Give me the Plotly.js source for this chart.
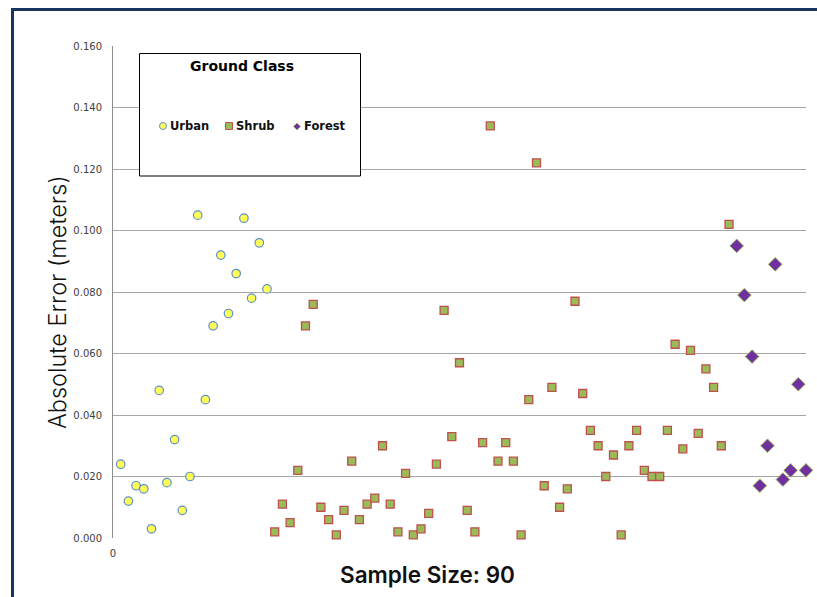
<!DOCTYPE html>
<html>
<head>
<meta charset="utf-8">
<script src="https://cdn.plot.ly/plotly-3.0.1.min.js"></script>
<style>
html,body{margin:0;padding:0;background:#fff;overflow:hidden;width:817px;height:597px;}
#wrap{position:relative;width:817px;height:597px;overflow:hidden;}
#chart{position:absolute;left:0;top:0;width:817px;height:597px;}
#frame{position:absolute;left:11px;top:8px;width:900px;height:700px;
       border-top:3px solid #17375e;border-left:3px solid #17375e;pointer-events:none;box-sizing:border-box;}
</style>
</head>
<body>
<div id="wrap">
<div id="chart"></div>
<div id="frame"></div>
</div>
<script>
// ---- Data ----
var urbanX = [1,2,3,4,5,6,7,8,9,10,11,12,13,14,15,16,17,18,19,20];
var urbanY = [0.024,0.012,0.017,0.016,0.003,0.048,0.018,0.032,0.009,0.020,
              0.105,0.045,0.069,0.092,0.073,0.086,0.104,0.078,0.096,0.081];

var shrubX = [21,22,23,24,25,26,27,28,29,30,31,32,33,34,35,36,37,38,39,40,
              41,42,43,44,45,46,47,48,49,50,51,52,53,54,55,56,57,58,59,60,
              61,62,63,64,65,66,67,68,69,70,71,72,73,74,75,76,77,78,79,80];
var shrubY = [0.002,0.011,0.005,0.022,0.069,0.076,0.010,0.006,0.001,0.009,
              0.025,0.006,0.011,0.013,0.030,0.011,0.002,0.021,0.001,0.003,
              0.008,0.024,0.074,0.033,0.057,0.009,0.002,0.031,0.134,0.025,
              0.031,0.025,0.001,0.045,0.122,0.017,0.049,0.010,0.016,0.077,
              0.047,0.035,0.030,0.020,0.027,0.001,0.030,0.035,0.022,0.020,
              0.020,0.035,0.063,0.029,0.061,0.034,0.055,0.049,0.030,0.102];

var forestX = [81,82,83,84,85,86,87,88,89,90];
var forestY = [0.095,0.079,0.059,0.017,0.030,0.089,0.019,0.022,0.050,0.022];

var seriesNames = ['Urban','Shrub','Forest'];
var yTickVals = [0,0.02,0.04,0.06,0.08,0.1,0.12,0.14,0.16];
var yTickText = ['0.000','0.020','0.040','0.060','0.080','0.100','0.120','0.140','0.160'];
var xTickVals = [0];
var xTickText = ['0'];
var legendTitle = 'Ground Class';
var xTitle = 'Sample Size: 90';
var yTitle = 'Absolute Error (meters)';

// ---- Layout helpers (pixel -> paper) ----
var W = 817, H = 597;
var mL = 113, mR = 11, mT = 46, mB = 59;
var pw = W - mL - mR, ph = H - mT - mB;
function px(x){ return (x - mL) / pw; }
function py(y){ return (H - mB - y) / ph; }

var urbanColor = '#ffff55', urbanLine = '#5b8fd0';
var shrubColor = '#9bbb59', shrubLine = '#c0504d';
var forestColor = '#7030a0', forestLine = '#9bbb59';

var traces = [
  {x: urbanX, y: urbanY, name: seriesNames[0], type: 'scatter', mode: 'markers', cliponaxis: false,
   marker: {symbol: 'circle', size: 8.5, color: urbanColor, line: {color: urbanLine, width: 1.2}},
   showlegend: false},
  {x: shrubX, y: shrubY, name: seriesNames[1], type: 'scatter', mode: 'markers', cliponaxis: false,
   marker: {symbol: 'square', size: 8, color: shrubColor, line: {color: shrubLine, width: 1.3}},
   showlegend: false},
  {x: forestX, y: forestY, name: seriesNames[2], type: 'scatter', mode: 'markers', cliponaxis: false,
   marker: {symbol: 'diamond', size: 10.5, color: forestColor, line: {color: forestLine, width: 1}},
   showlegend: false}
];

var tickFont = {family: 'DejaVu Sans, Verdana, sans-serif', size: 10, color: '#404040'};
var legFont = {family: 'DejaVu Sans, Verdana, sans-serif', size: 11.5, color: '#111111', weight: 'bold'};

var shapes = [
  // legend box
  {type: 'rect', xref: 'paper', yref: 'paper', x0: px(139.5), x1: px(360.5), y0: py(53.5), y1: py(176),
   fillcolor: '#ffffff', line: {color: '#000000', width: 1}, layer: 'above'},
  // legend glyphs
  {type: 'circle', xref: 'paper', yref: 'paper', x0: px(159.5), x1: px(166.5), y0: py(122.5), y1: py(129.5),
   fillcolor: urbanColor, line: {color: urbanLine, width: 1}, layer: 'above'},
  {type: 'rect', xref: 'paper', yref: 'paper', x0: px(225.5), x1: px(232.5), y0: py(122.5), y1: py(129.5),
   fillcolor: shrubColor, line: {color: shrubLine, width: 1}, layer: 'above'},
  {type: 'path', xref: 'paper', yref: 'paper',
   path: 'M ' + px(297) + ' ' + py(123) + ' L ' + px(300.5) + ' ' + py(126.5) + ' L ' + px(297) + ' ' + py(130) + ' L ' + px(293.5) + ' ' + py(126.5) + ' Z',
   fillcolor: forestColor, line: {color: forestLine, width: 0.8}, layer: 'above'}
];

var annotations = [
  {xref: 'paper', yref: 'paper', x: px(242), y: py(66.5), text: legendTitle, showarrow: false,
   xanchor: 'center', yanchor: 'middle',
   font: {family: 'DejaVu Sans, Verdana, sans-serif', size: 14, color: '#000', weight: 'bold'}},
  {xref: 'paper', yref: 'paper', x: px(168), y: py(126.5), text: seriesNames[0], showarrow: false,
   xanchor: 'left', yanchor: 'middle', font: legFont},
  {xref: 'paper', yref: 'paper', x: px(234), y: py(126.5), text: seriesNames[1], showarrow: false,
   xanchor: 'left', yanchor: 'middle', font: legFont},
  {xref: 'paper', yref: 'paper', x: px(302), y: py(126.5), text: seriesNames[2], showarrow: false,
   xanchor: 'left', yanchor: 'middle', font: legFont},
  {xref: 'paper', yref: 'paper', x: px(427), y: py(574), text: xTitle, showarrow: false,
   xanchor: 'center', yanchor: 'middle',
   font: {family: 'Inter, Lato, sans-serif', size: 22.5, color: '#111111', weight: 600}},
  {xref: 'paper', yref: 'paper', x: px(57), y: py(302), text: yTitle, showarrow: false, textangle: -90,
   xanchor: 'center', yanchor: 'middle',
   font: {family: 'Inter, Lato, sans-serif', size: 23.5, color: '#111111', weight: 300}}
];

var layout = {
  width: W, height: H,
  margin: {l: mL, r: mR, t: mT, b: mB, pad: 0},
  paper_bgcolor: '#ffffff', plot_bgcolor: '#ffffff',
  showlegend: false,
  xaxis: {range: [0, 90], tickvals: xTickVals, ticktext: xTickText, showgrid: false,
          zeroline: false, showline: false, ticks: '', tickfont: tickFont, ticklabelstandoff: 8,
          fixedrange: true},
  yaxis: {range: [0, 0.16], tickvals: yTickVals, ticktext: yTickText, showgrid: true,
          gridcolor: '#a6a6a6', gridwidth: 1, zeroline: false, showline: true,
          linecolor: '#8c8c8c', linewidth: 1, ticks: '', tickfont: tickFont,
          ticklabelstandoff: 8, fixedrange: true},
  shapes: shapes,
  annotations: annotations
};

Plotly.newPlot('chart', traces, layout, {displayModeBar: false, staticPlot: true});
</script>
</body>
</html>
